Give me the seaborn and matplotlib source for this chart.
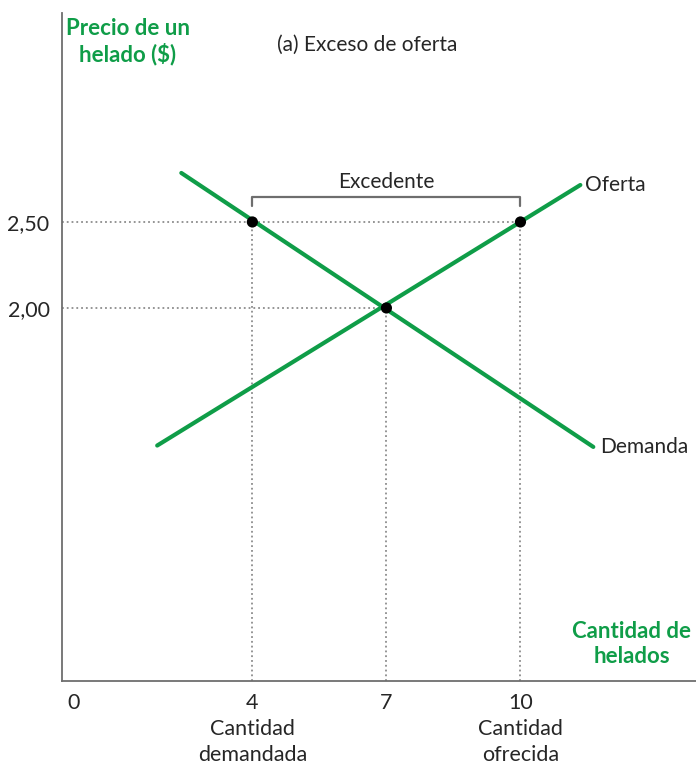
import matplotlib
matplotlib.use("Agg")
import matplotlib.pyplot as plt
import seaborn as sns
import pandas as pd

# =====================================================
# DATA
# =====================================================
oferta_x = [1.87, 11.34]
oferta_y = [1.20, 2.715]
demanda_x = [2.41, 11.63]
demanda_y = [2.785, 1.192]

puntos_x = [4, 7, 10]
puntos_y = [2.50, 2.00, 2.50]

xticks = [0, 4, 7, 10]
xtick_labels = ["0", "4\nCantidad\ndemandada", "7", "10\nCantidad\nofrecida"]
yticks = [2.00, 2.50]
ytick_labels = ["2,00", "2,50"]

# =====================================================
# STYLE
# =====================================================
sns.set_style("white")
plt.rcParams["font.family"] = ["Lato", "DejaVu Sans"]

GREEN = "#0f9d48"
GRAY = "#6e6e6e"
DOT = "#8c8c8c"

fig = plt.figure(figsize=(6.96, 7.66), dpi=100)
ax = fig.add_axes([0.0891, 0.111, 0.911, 0.872])

oferta = pd.DataFrame({"x": oferta_x, "y": oferta_y})
demanda = pd.DataFrame({"x": demanda_x, "y": demanda_y})
sns.lineplot(data=oferta, x="x", y="y", color=GREEN, lw=3, ax=ax)
sns.lineplot(data=demanda, x="x", y="y", color=GREEN, lw=3, ax=ax)

xmin, xmax = -0.26, 13.93
ymin, ymax = -0.169, 3.715

# Dotted guide lines
for px, py in zip(puntos_x, puntos_y):
    ax.plot([px, px], [ymin, py], ls=":", color=DOT, lw=1.3, zorder=1)
ax.plot([xmin, 10], [2.5, 2.5], ls=":", color=DOT, lw=1.3, zorder=1)
ax.plot([xmin, 7], [2.0, 2.0], ls=":", color=DOT, lw=1.3, zorder=1)

sns.scatterplot(x=puntos_x, y=puntos_y, color="black", s=65, zorder=5,
                edgecolor="none", ax=ax)

# Bracket for the surplus
ax.plot([4, 4, 10, 10], [2.59, 2.645, 2.645, 2.59], color=GRAY, lw=1.6)
ax.text(7, 2.675, "Excedente", ha="center", va="bottom", fontsize=15)

ax.text(oferta_x[1] + 0.1, oferta_y[1], "Oferta", ha="left", va="center", fontsize=15)
ax.text(demanda_x[1] + 0.15, demanda_y[1], "Demanda", ha="left", va="center", fontsize=15)

ax.set_xlim(xmin, xmax)
ax.set_ylim(ymin, ymax)
ax.set_xticks(xticks)
ax.set_xticklabels(xtick_labels, fontsize=15.5, linespacing=1.35)
ax.set_yticks(yticks)
ax.set_yticklabels(ytick_labels, fontsize=15.5)
ax.tick_params(length=0, pad=9)
ax.set_xlabel("")
ax.set_ylabel("")

for s in ["top", "right"]:
    ax.spines[s].set_visible(False)
for s in ["left", "bottom"]:
    ax.spines[s].set_color(GRAY)
    ax.spines[s].set_linewidth(1.3)

fig.text(128 / 696, 1 - 42 / 766, "Precio de un\nhelado ($)", ha="center", va="center",
         fontsize=16, fontweight="bold", color=GREEN, linespacing=1.2)
fig.text(632 / 696, 1 - 644 / 766, "Cantidad de\nhelados", ha="center", va="center",
         fontsize=16, fontweight="bold", color=GREEN, linespacing=1.2)
fig.text(367 / 696, 1 - 45 / 766, "(a) Exceso de oferta", ha="center", va="center",
         fontsize=15)

fig.savefig("out.png", dpi=100)
